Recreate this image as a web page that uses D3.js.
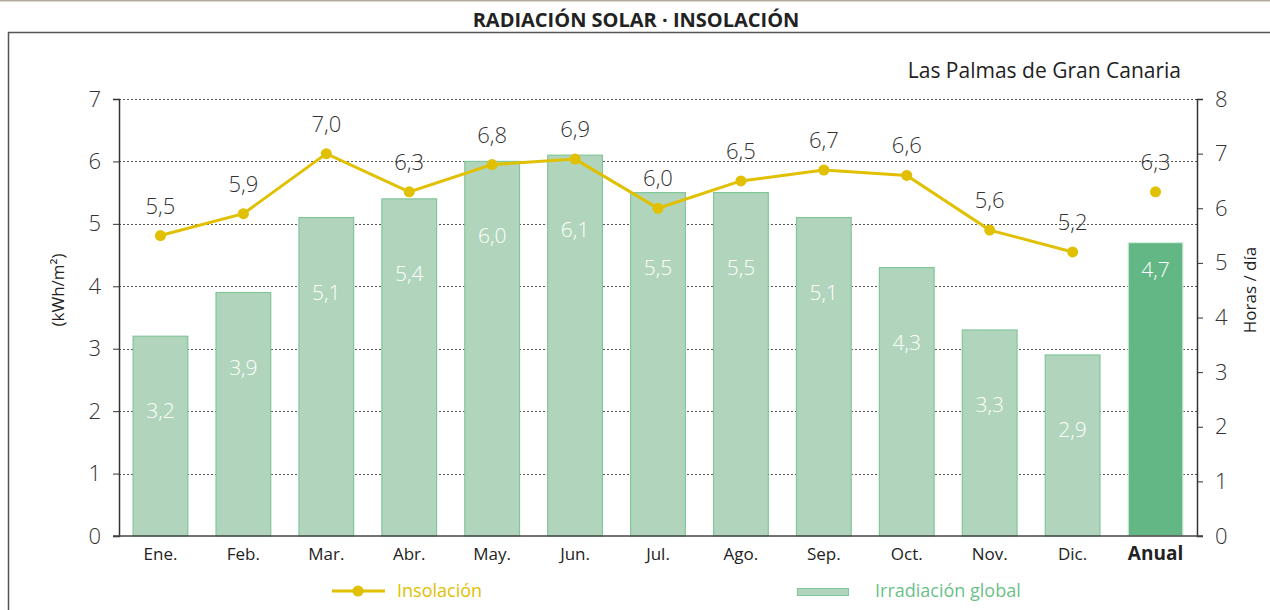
<!DOCTYPE html>
<html>
<head>
<meta charset="utf-8">
<script src="https://cdn.jsdelivr.net/npm/d3@7"></script>
<style>
  body { margin: 0; background: #fff; }
  svg { display: block; font-family: "Open Sans", "Noto Sans", sans-serif; }
</style>
</head>
<body>
<svg width="1270" height="610"></svg>
<script>
// datos
const meses = ["Ene.", "Feb.", "Mar.", "Abr.", "May.", "Jun.", "Jul.", "Ago.", "Sep.", "Oct.", "Nov.", "Dic.", "Anual"];
const irradiacion = [3.2, 3.9, 5.1, 5.4, 6.0, 6.1, 5.5, 5.5, 5.1, 4.3, 3.3, 2.9, 4.7];   // kWh/m²
const insolacion = [5.5, 5.9, 7.0, 6.3, 6.8, 6.9, 6.0, 6.5, 6.7, 6.6, 5.6, 5.2, 6.3];    // horas / día
const ticksIzq = [0, 1, 2, 3, 4, 5, 6, 7];
const ticksDer = [0, 1, 2, 3, 4, 5, 6, 7, 8];

const svg = d3.select("svg");
const coma = d => d.toFixed(1).replace(".", ",");

const margen = { izq: 119, der: 1197, arr: 99, abj: 536 };
const amarillo = "#e0c000";

// línea superior y marco
svg.append("line").attr("x1", 0).attr("x2", 1270).attr("y1", 0.5).attr("y2", 0.5)
  .attr("stroke", "#b5ab98").attr("stroke-width", 2);
svg.append("rect").attr("x", 8.5).attr("y", 32.5).attr("width", 1300).attr("height", 700)
  .attr("fill", "none").attr("stroke", "#555").attr("stroke-width", 1.5);

svg.append("text").attr("x", 636).attr("y", 27).attr("text-anchor", "middle")
  .attr("font-size", 20).attr("font-weight", "bold").attr("fill", "#222")
  .text("RADIACIÓN SOLAR · INSOLACIÓN");

svg.append("text").attr("x", 1181).attr("y", 78).attr("text-anchor", "end")
  .attr("font-size", 21).attr("fill", "#222").text("Las Palmas de Gran Canaria");

const x = d3.scaleBand().domain(meses).range([margen.izq, margen.der]).paddingInner(0.34).paddingOuter(0.17);
const yIzq = d3.scaleLinear().domain([0, 7]).range([margen.abj, margen.arr]);
const yDer = d3.scaleLinear().domain([0, 8]).range([margen.abj, margen.arr]);

// rejilla punteada
svg.append("g").selectAll("line").data(ticksIzq.filter(d => d > 0)).join("line")
  .attr("x1", margen.izq).attr("x2", margen.der)
  .attr("y1", d => Math.round(yIzq(d)) + 0.5).attr("y2", d => Math.round(yIzq(d)) + 0.5)
  .attr("stroke", "#555").attr("stroke-dasharray", "2,2");

// barras
svg.append("g").selectAll("rect").data(irradiacion).join("rect")
  .attr("x", (d, i) => x(meses[i]))
  .attr("y", d => yIzq(d))
  .attr("width", x.bandwidth())
  .attr("height", d => margen.abj - yIzq(d))
  .attr("fill", (d, i) => meses[i] === "Anual" ? "#63b784" : "#b1d5bc")
  .attr("stroke", (d, i) => meses[i] === "Anual" ? "#d8eedd" : "#82c69a")
  .attr("stroke-width", 1.2);

svg.append("g").selectAll("text").data(irradiacion).join("text")
  .attr("x", (d, i) => x(meses[i]) + x.bandwidth() / 2)
  .attr("y", (d, i) => meses[i] === "Anual" ? yIzq(d) + 34 : yIzq(d) + 82)
  .attr("text-anchor", "middle").attr("font-size", 21).attr("font-weight", 300).attr("fill", "#fff")
  .text(d => coma(d));

// ejes
const ejeIzq = svg.append("g").attr("transform", `translate(${margen.izq},0)`)
  .call(d3.axisLeft(yIzq).tickValues(ticksIzq).tickSize(6).tickPadding(12).tickFormat(d3.format("d")));
const ejeDer = svg.append("g").attr("transform", `translate(${margen.der},0)`)
  .call(d3.axisRight(yDer).tickValues(ticksDer).tickSize(6).tickPadding(12).tickFormat(d3.format("d")));
[ejeIzq, ejeDer].forEach(g => {
  g.select(".domain").attr("stroke", "#333").attr("stroke-width", 1.5);
  g.selectAll(".tick line").attr("stroke", "#333");
  g.selectAll(".tick text").attr("font-size", 22).attr("fill", "#333")
    .attr("font-family", "'Open Sans', sans-serif").attr("font-weight", 300);
});

svg.append("line").attr("x1", margen.izq - 6).attr("x2", margen.der + 6)
  .attr("y1", margen.abj).attr("y2", margen.abj).attr("stroke", "#444").attr("stroke-width", 1.5);

svg.append("g").selectAll("text").data(meses).join("text")
  .attr("x", d => x(d) + x.bandwidth() / 2).attr("y", 560)
  .attr("text-anchor", "middle").attr("fill", "#222")
  .attr("font-weight", d => d === "Anual" ? "bold" : "normal")
  .attr("font-size", d => d === "Anual" ? 19 : 17)
  .text(d => d);

svg.append("text").attr("transform", "translate(64,290) rotate(-90)")
  .attr("text-anchor", "middle").attr("font-size", 17).attr("fill", "#222")
  .text("(kWh/m²)");
svg.append("text").attr("transform", "translate(1256,290) rotate(-90)")
  .attr("text-anchor", "middle").attr("font-size", 17).attr("fill", "#222")
  .text("Horas / día");

// línea de insolación (sin el anual)
const mensual = insolacion.slice(0, 12);
svg.append("path").datum(mensual)
  .attr("fill", "none").attr("stroke", amarillo).attr("stroke-width", 3)
  .attr("d", d3.line().x((d, i) => x(meses[i]) + x.bandwidth() / 2).y(d => yDer(d)));

svg.append("g").selectAll("circle").data(insolacion).join("circle")
  .attr("cx", (d, i) => x(meses[i]) + x.bandwidth() / 2)
  .attr("cy", d => yDer(d)).attr("r", 5.5).attr("fill", amarillo);

svg.append("g").selectAll("text").data(insolacion).join("text")
  .attr("x", (d, i) => x(meses[i]) + x.bandwidth() / 2)
  .attr("y", d => yDer(d) - 22)
  .attr("text-anchor", "middle").attr("font-size", 22).attr("fill", "#333")
  .attr("font-weight", 300)
  .text(d => coma(d));

// leyenda
svg.append("line").attr("x1", 332).attr("x2", 385).attr("y1", 591).attr("y2", 591)
  .attr("stroke", amarillo).attr("stroke-width", 3);
svg.append("circle").attr("cx", 358).attr("cy", 591).attr("r", 5.5).attr("fill", amarillo);
svg.append("text").attr("x", 397).attr("y", 597).attr("font-size", 18).attr("fill", amarillo)
  .text("Insolación");
svg.append("rect").attr("x", 797.5).attr("y", 588.5).attr("width", 51).attr("height", 7)
  .attr("fill", "#b1d5bc").attr("stroke", "#82c69a");
svg.append("text").attr("x", 875).attr("y", 597).attr("font-size", 18).attr("fill", "#6cbf8a")
  .text("Irradiación global");
</script>
</body>
</html>
